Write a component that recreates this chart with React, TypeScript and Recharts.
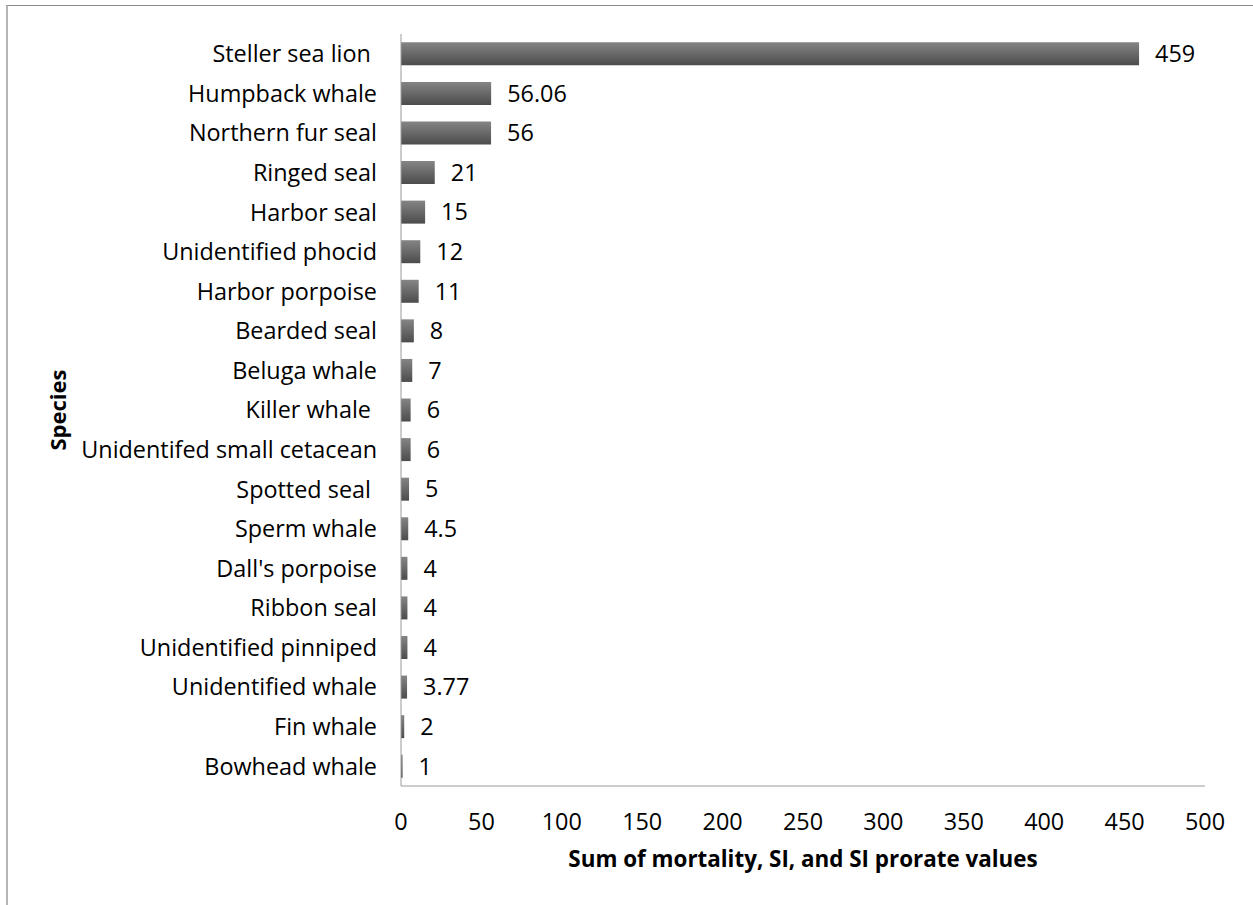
import React from 'react';
import { BarChart, Bar, XAxis, YAxis, LabelList } from 'recharts';

const species = [
  'Steller sea lion ',
  'Humpback whale',
  'Northern fur seal',
  'Ringed seal',
  'Harbor seal',
  'Unidentified phocid',
  'Harbor porpoise',
  'Bearded seal',
  'Beluga whale',
  'Killer whale ',
  'Unidentifed small cetacean',
  'Spotted seal ',
  'Sperm whale',
  "Dall's porpoise",
  'Ribbon seal',
  'Unidentified pinniped',
  'Unidentified whale',
  'Fin whale',
  'Bowhead whale',
];
const values = [459, 56.06, 56, 21, 15, 12, 11, 8, 7, 6, 6, 5, 4.5, 4, 4, 4, 3.77, 2, 1];
const xTicks = [0, 50, 100, 150, 200, 250, 300, 350, 400, 450, 500];

const data = species.map((s, i) => ({ species: s, value: values[i] }));

const FONT = 'Open Sans, sans-serif';
const FS = 23.4;

const YTick = (props: any) => {
  const { x, y, payload } = props;
  return (
    <text x={x} y={y} dy="0.36em" textAnchor="end" fontFamily={FONT} fontSize={FS} fill="#000" style={{ whiteSpace: 'pre' }}>
      {payload.value}
    </text>
  );
};

export default function App() {
  return (
    <div style={{ position: 'absolute', left: 0, top: 0, width: 1253, height: 905, background: '#fff' }}>
      <div style={{ position: 'absolute', left: 6, top: 5, right: 0, bottom: 0, borderTop: '1px solid #8c8c8c', borderLeft: '2px solid #b5b5b5' }} />
      <BarChart
        width={1253}
        height={905}
        data={data}
        layout="vertical"
        margin={{ top: 34, right: 48, bottom: 24, left: 0 }}
        barCategoryGap="21%"
        style={{ position: 'absolute', left: 0, top: 0 }}
      >
        <defs>
          <linearGradient id="barGrad" x1="0" y1="0" x2="0" y2="1">
            <stop offset="0%" stopColor="#858585" />
            <stop offset="100%" stopColor="#4c4c4c" />
          </linearGradient>
        </defs>
        <XAxis
          type="number"
          domain={[0, 500]}
          ticks={xTicks}
          interval={0}
          tickLine={false}
          tickMargin={21}
          stroke="#9a9a9a"
          tick={{ fill: '#000', fontSize: FS, fontFamily: FONT }}
          height={95}
          label={{ value: 'Sum of mortality, SI, and SI prorate values', position: 'insideBottom', offset: 14, style: { fontWeight: 'bold', fontSize: 22.4, fontFamily: FONT, fill: '#000' } }}
        />
        <YAxis
          type="category"
          dataKey="species"
          width={401}
          interval={0}
          tickLine={false}
          tickMargin={18}
          stroke="#9a9a9a"
          tick={<YTick />}
          label={{ value: 'Species', angle: -90, position: 'insideLeft', offset: 58, style: { fontWeight: 'bold', fontSize: 22, fontFamily: FONT, fill: '#000', textAnchor: 'middle' } }}
        />
        <Bar dataKey="value" fill="url(#barGrad)" isAnimationActive={false}>
          <LabelList dataKey="value" position="right" offset={16} style={{ fontSize: FS, fontFamily: FONT, fill: '#000' }} />
        </Bar>
      </BarChart>
    </div>
  );
}
